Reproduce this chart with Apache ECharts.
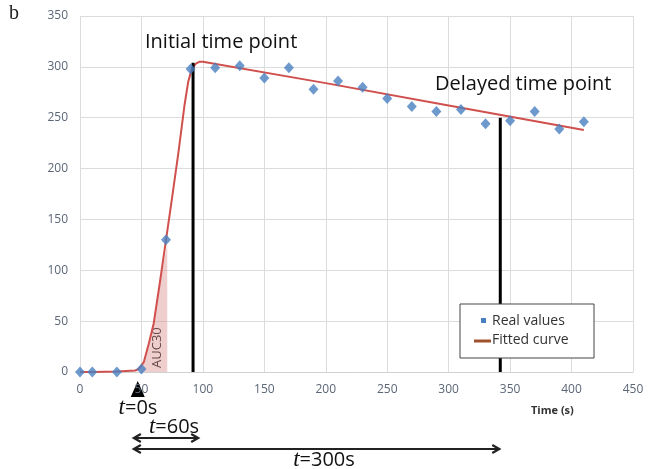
<!DOCTYPE html>
<html><head><meta charset="utf-8">
<script src="https://cdn.jsdelivr.net/npm/echarts@6/dist/echarts.min.js"></script>
<style>html,body{margin:0;padding:0;background:#fff}#c{width:651px;height:469px}</style>
</head><body><div id="c"></div>
<script>
const realX = [0,10,30,50,70,90,110,130,150,170,190,210,230,250,270,290,310,330,350,370,390,410];
const realY = [0,0,0,3,130,298,299,301,289,299,278,286,280,269,261,256,258,244,247,256,239,246];
const fitX = [0,10,30,45,48,52,56,60,65,70,75,80,85,88,91,94,97,100,200,300,410];
const fitY = [0,0,0.5,1.5,3,10,28,48,88,130,172,215,262,285,298,303,305,305,284,262,238];
const aucX = [49,50,52,56,60,65,71];
const aucY = [0,3,10,28,48,88,125];
const initialLine = [[92,0],[92,304]];
const delayedLine = [[342,0],[342,250]];
const xTicks = {min:0, max:450, interval:50};
const yTicks = {min:0, max:350, interval:50};

const FONT = '"Open Sans", "Liberation Sans", sans-serif';
const chart = echarts.init(document.getElementById('c'), null, {renderer:'canvas'});
const zip = (a,b)=>a.map((v,i)=>[v,b[i]]);

chart.setOption({
  animation:false,
  grid:{left:80,right:18,top:16,bottom:97},
  xAxis:{type:'value',min:xTicks.min,max:xTicks.max,interval:xTicks.interval,
    axisLine:{show:true,lineStyle:{color:'#d0d0d0'}},axisTick:{show:false},
    splitLine:{show:true,lineStyle:{color:'#dcdcdc'}},
    axisLabel:{color:'#5b6677',fontFamily:FONT,fontSize:12,margin:12}},
  yAxis:{type:'value',min:yTicks.min,max:yTicks.max,interval:yTicks.interval,
    axisLine:{show:false},axisTick:{show:false},
    splitLine:{show:true,lineStyle:{color:'#dcdcdc'}},
    axisLabel:{color:'#5b6677',fontFamily:FONT,fontSize:12,margin:12}},
  series:[
    {name:'AUC',type:'line',data:zip(aucX,aucY),symbol:'none',lineStyle:{width:0},
      areaStyle:{color:'rgba(214,128,128,0.55)',origin:0},z:1},
    {name:'Fitted curve',type:'line',data:zip(fitX,fitY),symbol:'none',smooth:false,
      lineStyle:{color:'#d0504d',width:2,join:'round'},z:2},
    {name:'initial',type:'line',data:initialLine,symbol:'none',lineStyle:{color:'#000',width:3},z:3},
    {name:'delayed',type:'line',data:delayedLine,symbol:'none',lineStyle:{color:'#000',width:3},z:3},
    {name:'Real values',type:'scatter',data:zip(realX,realY),symbol:'diamond',symbolSize:[10,11],
      itemStyle:{color:'#4a7fc1'},z:4}
  ]
});

function px(x,y){return chart.convertToPixel({gridIndex:0},[x,y]);}
const p0 = px(47,0), pA1 = px(43,0), pA2 = px(97,0), pA3 = px(342,0), pAuc = px(63,24);
const arrowY1 = 438, arrowY2 = 449;
function arrow(x1,x2,y){
  return [
    {type:'line',shape:{x1:x1+2,y1:y,x2:x2-2,y2:y},style:{stroke:'#222',lineWidth:1.8}},
    {type:'polyline',shape:{points:[[x1+8,y-4],[x1+1,y],[x1+8,y+4]]},style:{stroke:'#222',lineWidth:2.2,fill:null}},
    {type:'polyline',shape:{points:[[x2-8,y-4],[x2-1,y],[x2-8,y+4]]},style:{stroke:'#222',lineWidth:2.2,fill:null}}
  ];
}
const tRich = {i:{fontStyle:'italic',fontFamily:'"Liberation Serif", serif',fontSize:23,fill:'#111'},n:{fontFamily:FONT,fontSize:20,fill:'#111'}};
const L = 1;
const g = [
  {type:'text',left:9,top:4,style:{text:'b',font:'20px "Liberation Serif", "DejaVu Serif", serif',fill:'#222'}},
  {type:'text',x:145,y:42,style:{text:'Initial time point',font:'20px '+FONT,fill:'#111',verticalAlign:'middle'}},
  {type:'text',x:435,y:84,style:{text:'Delayed time point',font:'20px '+FONT,fill:'#111',verticalAlign:'middle'}},
  {type:'text',x:pAuc[0],y:pAuc[1],rotation:Math.PI/2,style:{text:'AUC30',font:'13px '+FONT,fill:'#222',align:'center',verticalAlign:'middle'}},
  {type:'text',x:531,y:411,style:{text:'Time (s)',font:'bold 11px '+FONT,fill:'#333',verticalAlign:'middle'}},
  {type:'polygon',shape:{points:[[p0[0],381],[p0[0]-7,397],[p0[0]+7,397]]},style:{fill:'#000'}},
  {type:'text',x:138,y:408,style:{rich:tRich,text:'{i|t}{n|=0s}',align:'center',verticalAlign:'middle'}},
  {type:'text',x:174,y:427,style:{rich:tRich,text:'{i|t}{n|=60s}',align:'center',verticalAlign:'middle'}},
  {type:'text',x:324,y:460,style:{rich:tRich,text:'{i|t}{n|=300s}',align:'center',verticalAlign:'middle'}},
  ...arrow(pA1[0],pA2[0],arrowY1),
  ...arrow(pA1[0],pA3[0],arrowY2),
  {type:'rect',zlevel:L,shape:{x:460,y:304,width:134,height:54},style:{fill:'#fff',stroke:'#444',lineWidth:1}},
  {type:'rect',zlevel:L,z:5,shape:{x:481,y:318,width:5,height:5},style:{fill:'#4a7fc1'}},
  {type:'text',zlevel:L,z:5,x:492,y:321,style:{text:'Real values',font:'14px '+FONT,fill:'#333',verticalAlign:'middle'}},
  {type:'line',zlevel:L,z:5,shape:{x1:474,y1:341,x2:491,y2:341},style:{stroke:'#a0522d',lineWidth:3}},
  {type:'text',zlevel:L,z:5,x:492,y:340,style:{text:'Fitted curve',font:'14px '+FONT,fill:'#333',verticalAlign:'middle'}}
];
chart.setOption({graphic:g});
</script></body></html>
